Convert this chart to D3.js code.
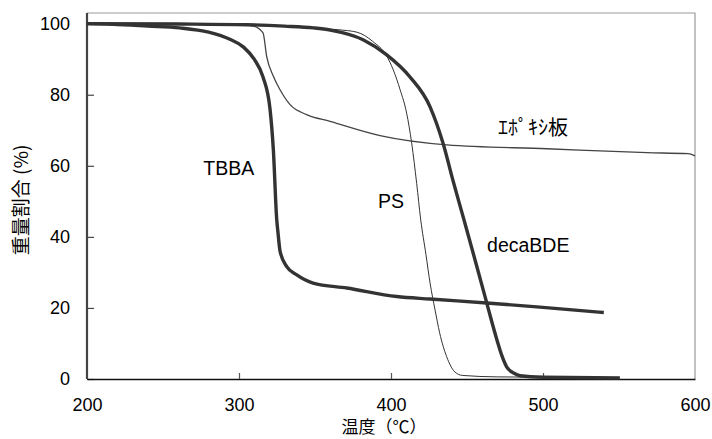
<!DOCTYPE html>
<html>
<head>
<meta charset="utf-8">
<script src="https://cdn.jsdelivr.net/npm/d3@7"></script>
<style>
  body { margin: 0; background: #fff; }
  svg { display: block; }
  .tick text { font-family: "Liberation Sans", Arial, sans-serif; font-size: 18px; fill: #000; }
  .label { font-family: "Liberation Sans", Arial, sans-serif; font-size: 19.5px; fill: #000; }
  .jp { font-family: "Noto Sans CJK JP", sans-serif; font-size: 19px; fill: #000; }
  .xt { font-family: "Noto Sans CJK JP", sans-serif; font-size: 17px; fill: #000; }
  .epx { font-family: "Noto Sans CJK JP", sans-serif; font-size: 20px; fill: #000; }
</style>
</head>
<body>
<div id="chart"></div>
<script>
// x ticks / y ticks
const xTicks = [200, 300, 400, 500, 600]
const yTicks = [0, 20, 40, 60, 80, 100]

// series: [temperature, weight %]
const tbba = [
	[200, 100], [217, 99.8], [240, 99.3], [261, 98.8], [280, 97.6], [294, 95.6],
	[303, 93.4], [310, 90], [315.8, 85], [320.4, 76], [322.6, 64.5], [324.8, 45],
	[325.7, 41], [327, 36], [331.4, 31.6], [338, 29.3], [348.7, 27], [370.9, 25.6],
	[403.8, 23.2], [425.7, 22.5], [463, 21.4], [496, 20.3], [540, 18.7]
]
const epoxy = [
	[200, 100], [250, 100], [300, 99.8], [309, 99.4], [315.8, 97.4], [318.2, 90.8],
	[322.6, 85.2], [327, 81.4], [333.6, 77.2], [344.5, 74.4], [359.9, 72.5],
	[392.8, 68.5], [436.8, 65.9], [502.6, 64.8], [568.4, 63.7], [595.4, 63.4], [600, 62.8]
]
const ps = [
	[200, 100], [260, 99.9], [300, 99.6], [340, 99], [365, 98.3], [377.6, 97.6],
	[388, 95], [397, 91], [401.5, 87], [406, 81.4], [410.3, 74.8], [413.6, 66.4],
	[416.9, 55], [419.5, 45], [423, 35], [425.7, 27], [429, 19.4], [432, 13],
	[436.6, 6.3], [442, 2], [447, 1], [470, 0.6], [550, 0.4]
]
const decaBDE = [
	[200, 100], [260, 99.9], [305, 99.7], [330, 99.3], [349, 98.8], [360, 98.2],
	[381.6, 95.5], [397, 91.3], [412.5, 85], [425.7, 76.6], [434.2, 66.4], [441, 55.5],
	[448, 44.8], [455.3, 33.5], [462.5, 22.2], [466, 16.6], [469.7, 11], [473, 6.5],
	[476, 3.5], [481, 1.6], [485, 0.9], [500, 0.5], [550.6, 0.3]
]

const labels = [
	{ text: 'TBBA', x: 276.5, y: 57.4, cls: 'label' },
	{ text: 'PS', x: 391.4, y: 48.1, cls: 'label' },
	{ text: 'decaBDE', x: 463.2, y: 35.7, cls: 'label' },
	{ text: 'ｴﾎﾟｷｼ板', x: 470.4, y: 68.7, cls: 'epx' }
]

const width = 712
const height = 439
const mLeft = 87, mRight = 695, mTop = 13, mBottom = 379

const x = d3.scaleLinear().domain([200, 600]).range([mLeft, mRight])
const y = d3.scaleLinear().domain([0, 103]).range([mBottom, mTop])

const svg = d3.select('#chart')
	.append('svg')
	.attr('width', width)
	.attr('height', height)

// frame (top & right)
svg.append('path')
	.attr('d', `M${mLeft},${mTop}H${mRight}V${mBottom}`)
	.attr('fill', 'none')
	.attr('stroke', '#999')
	.attr('stroke-width', 1.2)

// axes
const yAxis = svg.append('g')
	.attr('transform', `translate(${mLeft},0)`)
	.call(d3.axisLeft(y).tickValues(yTicks).tickSizeInner(-7).tickSizeOuter(0).tickPadding(17))
yAxis.select('.domain').attr('stroke', '#444').attr('stroke-width', 2.2)
	.attr('d', `M0,${mTop}V${mBottom}`)
yAxis.selectAll('.tick line').attr('stroke', '#444').attr('stroke-width', 1.2)

const xAxis = svg.append('g')
	.attr('transform', `translate(0,${mBottom})`)
	.call(d3.axisBottom(x).tickValues(xTicks).tickSizeInner(-6).tickSizeOuter(0).tickPadding(19))
xAxis.select('.domain').attr('stroke', '#111').attr('stroke-width', 1.6)
xAxis.selectAll('.tick line').attr('stroke', '#555').attr('stroke-width', 1.2)
xAxis.selectAll('.tick').filter(d => d === 200 || d === 600).select('line').remove()

// lines
const line = d3.line()
	.x(d => x(d[0]))
	.y(d => y(d[1]))
	.curve(d3.curveMonotoneX)

const series = [
	{ data: ps, w: 1, c: '#333' },
	{ data: epoxy, w: 1.3, c: '#444' },
	{ data: tbba, w: 3.4, c: '#333' },
	{ data: decaBDE, w: 3.4, c: '#333' }
]

svg.append('g')
	.selectAll('path')
	.data(series)
	.enter()
	.append('path')
	.attr('d', d => line(d.data))
	.attr('fill', 'none')
	.attr('stroke', d => d.c)
	.attr('stroke-width', d => d.w)
	.attr('stroke-linejoin', 'round')

// series labels
svg.append('g')
	.selectAll('text')
	.data(labels)
	.enter()
	.append('text')
	.attr('class', d => d.cls)
	.attr('x', d => x(d.x))
	.attr('y', d => y(d.y))
	.text(d => d.text)

// axis titles
svg.append('text')
	.attr('class', 'jp')
	.attr('text-anchor', 'middle')
	.attr('transform', 'translate(28,200) rotate(-90)')
	.text('重量割合 (%)')

svg.append('text')
	.attr('class', 'xt')
	.attr('text-anchor', 'middle')
	.attr('x', 384)
	.attr('y', 433)
	.text('温度（℃）')
</script>
</body>
</html>
